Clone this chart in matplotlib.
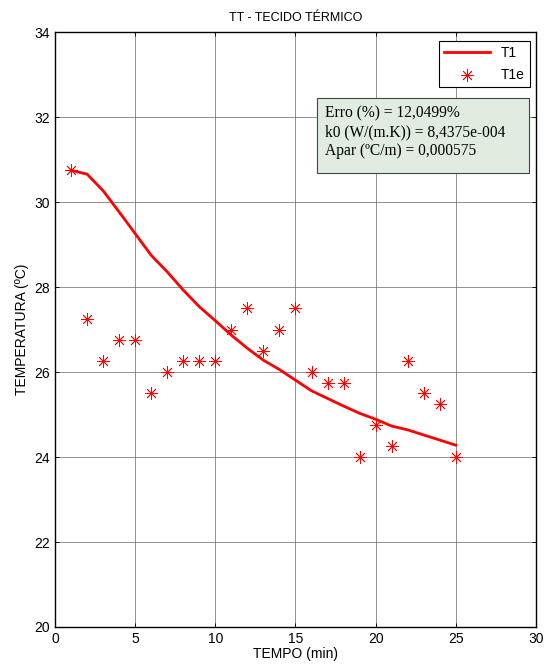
import matplotlib
matplotlib.use("Agg")
import matplotlib.pyplot as plt
from matplotlib.patches import Rectangle

plt.rcParams['font.family'] = ['Liberation Sans', 'DejaVu Sans']

t_exp = [1, 2, 3, 4, 5, 6, 7, 8, 9, 10, 11, 12, 13, 14, 15, 16, 17, 18, 19, 20, 21, 22, 23, 24, 25]
T1e = [30.75, 27.25, 26.25, 26.75, 26.75, 25.5, 26.0, 26.25, 26.25, 26.25, 27.0, 27.5, 26.5,
       27.0, 27.5, 26.0, 25.75, 25.75, 24.0, 24.75, 24.25, 26.25, 25.5, 25.25, 24.0]
T1 = [30.75, 30.66, 30.27, 29.77, 29.26, 28.75, 28.36, 27.93, 27.54, 27.21, 26.87, 26.56, 26.28,
      26.06, 25.81, 25.56, 25.38, 25.2, 25.03, 24.89, 24.73, 24.64, 24.52, 24.4, 24.28]
xticks = [0, 5, 10, 15, 20, 25, 30]
yticks = [20, 22, 24, 26, 28, 30, 32, 34]

fig = plt.figure(figsize=(5.48, 6.72), dpi=100)
ax = fig.add_axes([0.1004, 0.067, 0.8776, 0.885])

ax.plot(t_exp, T1, color='red', lw=2, label='T1', zorder=3)
ax.plot(t_exp, T1e, linestyle='none', marker=(8, 2, 0), markersize=9, markeredgewidth=0.6,
        color='red', label='T1e', zorder=3)

ax.set_xlim(0, 30)
ax.set_ylim(20, 34)
ax.set_xticks(xticks)
ax.set_yticks(yticks)
ax.grid(True, color='#666666', linewidth=0.5)
ax.tick_params(direction='in', top=True, right=True, length=3, labelsize=10, width=0.6)
for s in ax.spines.values():
    s.set_linewidth(1.0)
    s.set_color('black')

ax.set_title('TT - TECIDO TÉRMICO', fontsize=9, pad=8)
ax.set_xlabel('TEMPO (min)', fontsize=10, labelpad=1)
ax.set_ylabel('TEMPERATURA (ºC)', fontsize=10, labelpad=4)

leg = ax.legend(loc='upper right', fontsize=10, frameon=True, fancybox=False,
                edgecolor='black', framealpha=1, handlelength=3.3, borderpad=0.35,
                labelspacing=0.6, borderaxespad=0, bbox_to_anchor=(0.9875, 0.985))
leg.get_frame().set_linewidth(0.8)
leg.set_zorder(6)

box = Rectangle((16.34, 30.68), 13.22, 1.77, facecolor='#e0ece0', edgecolor='#444444',
                linewidth=0.8, zorder=5)
ax.add_patch(box)
ax.text(16.84, 32.27, 'Erro (%) = 12,0499%\nk0 (W/(m.K)) = 8,4375e-004\nApar (ºC/m) = 0,000575',
        family=['Liberation Serif', 'DejaVu Serif'], fontsize=11.2, va='top', ha='left',
        linespacing=1.22, zorder=6)

fig.savefig('out.png', dpi=100)
